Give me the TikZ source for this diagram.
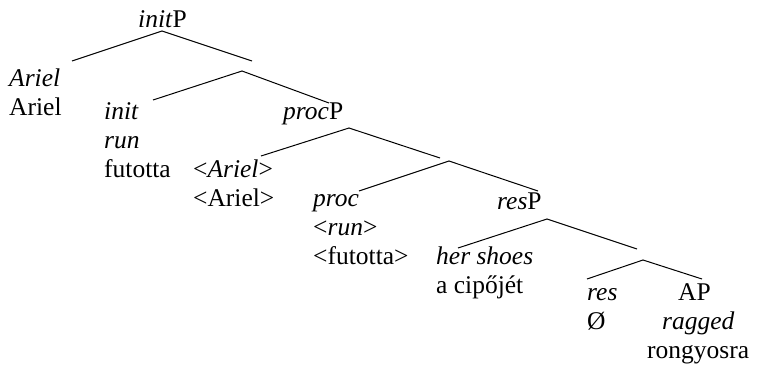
\documentclass[tikz,border=0pt]{standalone}
\usepackage{fontspec}
\setmainfont{Liberation Serif}
\begin{document}
\begin{tikzpicture}[x=1pt,y=-1pt,
  lbl/.style={anchor=base west,inner sep=0pt,font=\fontsize{25.5}{29}\selectfont},
  branch/.style={line width=1pt}]
\useasboundingbox (0,0) rectangle (762,367);
% labels
\node[lbl] (initP) at (138,27) {\textit{init}P};
\node[lbl] (arielI) at (9,86) {\textit{Ariel}};
\node[lbl] (ariel) at (9,115) {Ariel};
\node[lbl] (init) at (104,119) {\textit{init}};
\node[lbl] (run) at (104,148) {\textit{run}};
\node[lbl] (futotta) at (104,177) {futotta};
\node[lbl] (procP) at (283,119) {\textit{proc}P};
\node[lbl] (tArielI) at (193,177) {<\textit{Ariel}>};
\node[lbl] (tAriel) at (193,206) {<Ariel>};
\node[lbl] (proc) at (313,206) {\textit{proc}};
\node[lbl] (trun) at (313,235) {<\textit{run}>};
\node[lbl] (tfutotta) at (313,264) {<futotta>};
\node[lbl] (resP) at (497,209) {\textit{res}P};
\node[lbl] (shoes) at (436,264) {\textit{her shoes}};
\node[lbl] (cipo) at (436,293) {a cipőjét};
\node[lbl] (res) at (587,300) {\textit{res}};
\node[lbl] (empty) at (587,329) {Ø};
\node[lbl] (AP) at (678,300) {AP};
\node[lbl] (ragged) at (662,329) {\textit{ragged}};
\node[lbl] (rongy) at (647,358) {rongyosra};
% branch points
\coordinate (a1) at (162,31); \coordinate (a1l) at (72,61);  \coordinate (a1r) at (252,61);
\coordinate (a2) at (242,71); \coordinate (a2l) at (153,100); \coordinate (a2r) at (329,103);
\coordinate (a3) at (349,128); \coordinate (a3l) at (261,156); \coordinate (a3r) at (440,158);
\coordinate (a4) at (449,161); \coordinate (a4l) at (359,191); \coordinate (a4r) at (538,191);
\coordinate (a5) at (547,219); \coordinate (a5l) at (458,248); \coordinate (a5r) at (637,249);
\coordinate (a6) at (643,260); \coordinate (a6l) at (587,279); \coordinate (a6r) at (702,279);
\draw[branch] (a1l) -- (a1) -- (a1r);
\draw[branch] (a2l) -- (a2) -- (a2r);
\draw[branch] (a3l) -- (a3) -- (a3r);
\draw[branch] (a4l) -- (a4) -- (a4r);
\draw[branch] (a5l) -- (a5) -- (a5r);
\draw[branch] (a6l) -- (a6) -- (a6r);
\end{tikzpicture}
\end{document}
